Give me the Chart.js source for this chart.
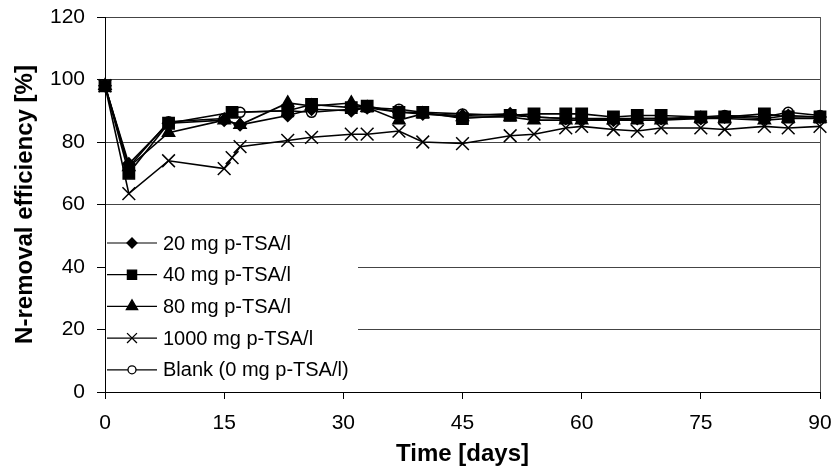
<!DOCTYPE html>
<html>
<head>
<meta charset="utf-8">
<script src="https://cdn.jsdelivr.net/npm/chart.js@4.4.1/dist/chart.umd.min.js"></script>
<style>
  html, body { margin: 0; padding: 0; background: #fff; }
  #wrap { width: 832px; height: 470px; }
</style>
</head>
<body>
<div id="wrap"><canvas id="grafico"></canvas></div>
<script>
// DATOS (dias de muestreo y eficiencia de remocion de N en %)
const seriesNames = ["20 mg p-TSA/l", "40 mg p-TSA/l", "80 mg p-TSA/l", "1000 mg p-TSA/l", "Blank (0 mg p-TSA/l)"];

const days20 = [0, 3, 8, 15, 17, 23, 26, 31, 33, 37, 40, 45, 51, 54, 58, 60, 64, 67, 70, 75, 78, 83, 86, 90];
const vals20 = [98, 73, 86, 87, 85.5, 88.5, 90.5, 90, 91, 89.5, 89, 88.5, 89, 88, 87.5, 87.5, 87, 87.5, 87.5, 87.5, 88, 87.5, 88.5, 88];

const days40 = [0, 3, 8, 16, 23, 26, 31, 33, 37, 40, 45, 51, 54, 58, 60, 64, 67, 70, 75, 78, 83, 86, 90];
const vals40 = [98, 70, 86, 89.5, 90, 92, 91, 91.5, 89.5, 89.5, 87.5, 88.5, 89, 89, 89, 88, 88.5, 88.5, 88, 88, 89, 88, 88];

const days80 = [0, 3, 8, 15, 17, 23, 26, 31, 33, 37, 40, 45, 51, 54, 58, 60, 64, 67, 70, 75, 78, 83, 86, 90];
const vals80 = [98, 72, 83, 87, 85.5, 92.5, 91.5, 92.5, 91, 87, 89, 88, 88, 87, 87, 87, 87, 87, 87, 87.5, 87.5, 87, 87.5, 87.5];

const days1000 = [0, 3, 8, 15, 16, 17, 23, 26, 31, 33, 37, 40, 45, 51, 54, 58, 60, 64, 67, 70, 75, 78, 83, 86, 90];
const vals1000 = [98, 63.5, 74, 71.5, 75, 78.5, 80.5, 81.5, 82.5, 82.5, 83.5, 80, 79.5, 82, 82.5, 84.5, 85, 84, 83.5, 84.5, 84.5, 84, 85, 84.5, 85];

const daysBlank = [0, 3, 8, 15, 17, 23, 26, 31, 33, 37, 40, 45, 51, 54, 58, 60, 64, 67, 70, 75, 78, 83, 86, 90];
const valsBlank = [98, 72, 86.5, 87.5, 89.5, 90, 89.5, 90.5, 91, 90.5, 89.5, 89, 88.5, 88, 87.5, 87.5, 87.5, 87.5, 87.5, 88, 88.5, 88, 89.5, 88.5];

const xTicks = [0, 15, 30, 45, 60, 75, 90];
const yTicks = [0, 20, 40, 60, 80, 100, 120];

const FONT = "'Liberation Sans', Arial, sans-serif";

function puntos(dias, valores) {
  return dias.map((d, i) => ({ x: d, y: valores[i] }));
}

function serie(nombre, dias, valores, estilo, radio, relleno) {
  return {
    label: nombre,
    data: puntos(dias, valores),
    borderColor: "#000",
    backgroundColor: relleno,
    pointStyle: estilo,
    pointRadius: radio,
    pointHoverRadius: radio,
    pointBorderWidth: 1.5,
    pointBorderColor: "#000",
    pointBackgroundColor: relleno,
    borderWidth: 1.6,
    showLine: true,
    clip: false,
  };
}

const datasets = [
  serie(seriesNames[0], days20, vals20, "rectRot", 6, "#000"),
  serie(seriesNames[1], days40, vals40, "rect", 8, "#000"),
  serie(seriesNames[2], days80, vals80, "triangle", 7, "#000"),
  serie(seriesNames[3], days1000, vals1000, "crossRot", 9, "#000"),
  serie(seriesNames[4], daysBlank, valsBlank, "circle", 5, "#fff"),
];

// LEYENDA DENTRO DEL AREA DEL GRAFICO + BORDE DERECHO
const leyendaInterna = {
  id: "leyendaInterna",
  beforeDatasetsDraw(chart) {
    const { ctx, chartArea } = chart;
    ctx.save();
    ctx.strokeStyle = "#555";
    ctx.lineWidth = 1;
    ctx.beginPath();
    ctx.moveTo(chartArea.right + 0.5, chartArea.top);
    ctx.lineTo(chartArea.right + 0.5, chartArea.bottom);
    ctx.stroke();
    ctx.fillStyle = "#fff";
    ctx.fillRect(chartArea.left + 1, 226, 252, chartArea.bottom - 226 - 6);
    ctx.restore();
  },
  afterDatasetsDraw(chart) {
    const { ctx } = chart;
    const x0 = 107, x1 = 157, xm = 132, xt = 163;
    const y0 = 243, paso = 31.7;
    ctx.save();
    chart.data.datasets.forEach((ds, i) => {
      const y = y0 + i * paso;
      ctx.strokeStyle = "#000";
      ctx.lineWidth = 1.2;
      ctx.beginPath();
      ctx.moveTo(x0, y);
      ctx.lineTo(x1, y);
      ctx.stroke();
      const r = ds.pointStyle === "circle" ? 4 : ds.pointStyle === "rectRot" ? 5 : ds.pointStyle === "crossRot" ? 7 : 6.5;
      ctx.fillStyle = ds.pointBackgroundColor;
      ctx.lineWidth = 1.3;
      Chart.helpers.drawPoint(ctx, { pointStyle: ds.pointStyle, radius: r, borderWidth: 1.3, rotation: 0 }, xm, y);
      ctx.fillStyle = "#000";
      ctx.font = "20px " + FONT;
      ctx.textAlign = "left";
      ctx.textBaseline = "middle";
      ctx.fillText(ds.label, xt, y + 1);
    });
    ctx.restore();
  },
};

new Chart(document.getElementById("grafico"), {
  type: "scatter",
  data: { datasets },
  plugins: [leyendaInterna],
  options: {
    responsive: true,
    maintainAspectRatio: false,
    animation: false,
    events: [],
    layout: { padding: { top: 17, right: 12, left: 0, bottom: 0 } },
    plugins: {
      legend: { display: false },
      tooltip: { enabled: false },
    },
    scales: {
      x: {
        type: "linear",
        min: 0,
        max: 90,
        afterFit(scale) {
          scale.height = 78;
          scale.paddingLeft = 0;
          scale.paddingRight = 0;
        },
        afterBuildTicks(scale) { scale.ticks = xTicks.map((v) => ({ value: v })); },
        grid: { drawOnChartArea: false, drawTicks: true, tickLength: 7, tickColor: "#000" },
        border: { color: "#000", width: 1 },
        ticks: { color: "#000", font: { family: FONT, size: 21 }, padding: 12, maxRotation: 0 },
        title: {
          display: true,
          text: "Time [days]",
          color: "#000",
          font: { family: FONT, size: 24, weight: "bold" },
          padding: { top: 0, bottom: 1 },
        },
      },
      y: {
        type: "linear",
        min: 0,
        max: 120,
        afterFit(scale) {
          scale.width = 105;
          scale.paddingTop = 0;
          scale.paddingBottom = 0;
        },
        afterBuildTicks(scale) { scale.ticks = yTicks.map((v) => ({ value: v })); },
        grid: { color: "#444", lineWidth: 1, tickLength: 8, tickColor: "#000" },
        border: { color: "#000", width: 1 },
        ticks: { color: "#000", font: { family: FONT, size: 21 }, padding: 12 },
        title: {
          display: true,
          text: "N-removal efficiency [%]",
          color: "#000",
          font: { family: FONT, size: 24, weight: "bold" },
          padding: { top: 11, bottom: 0 },
        },
      },
    },
  },
});
</script>
</body>
</html>
